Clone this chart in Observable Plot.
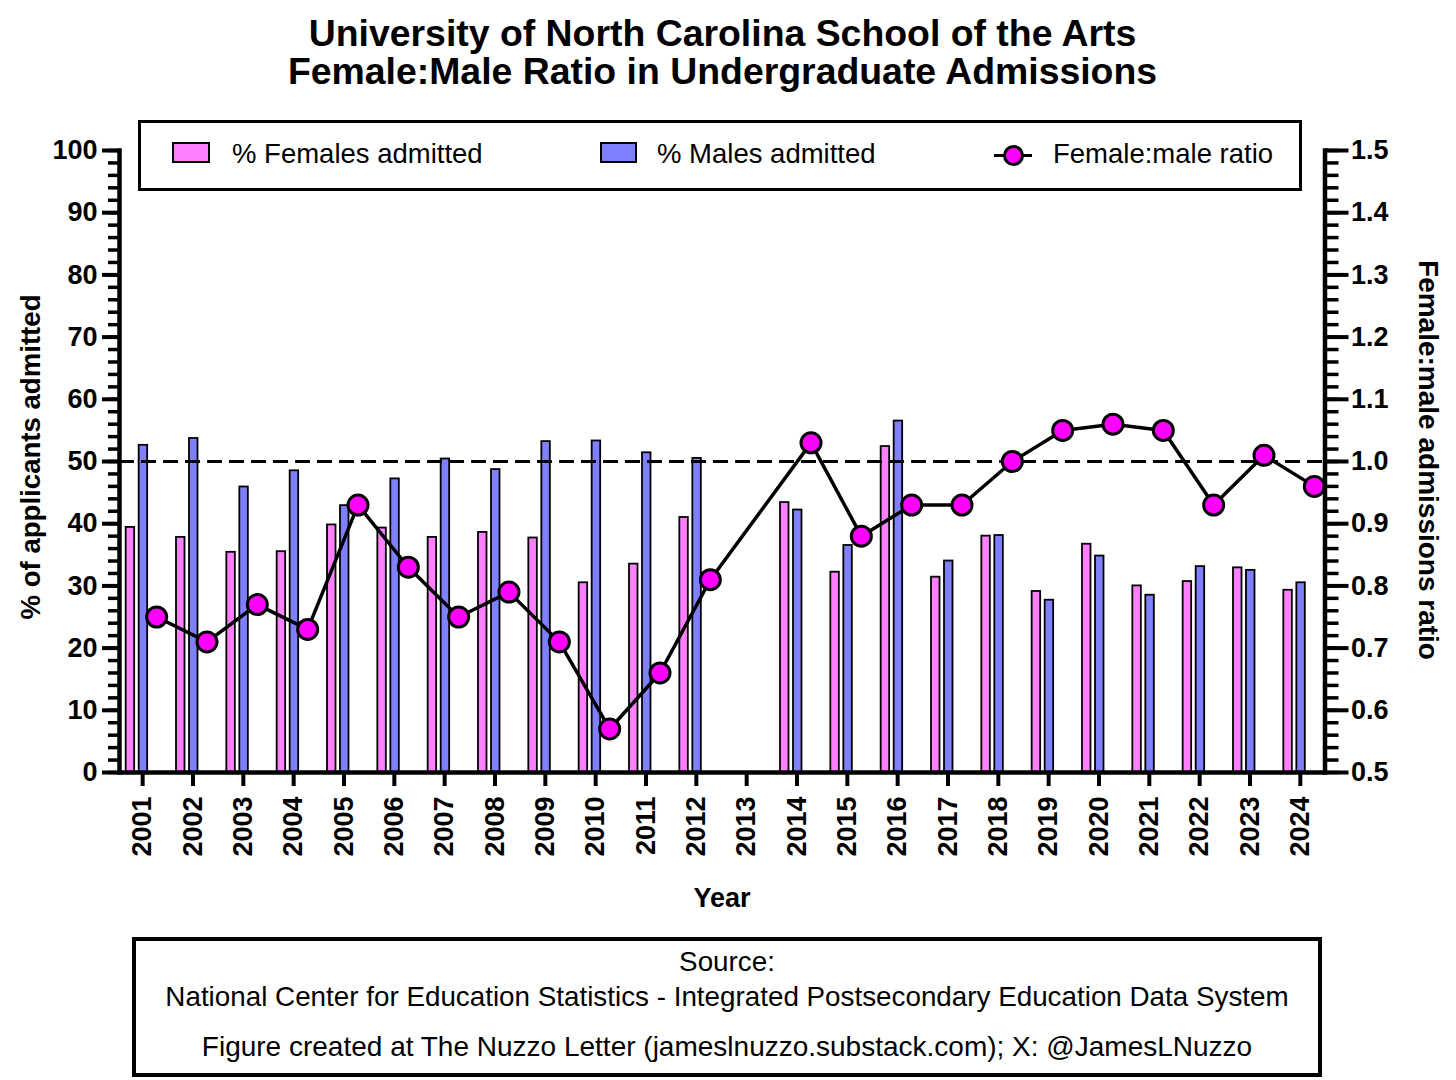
<!DOCTYPE html>
<html><head><meta charset="utf-8">
<script src="https://cdn.jsdelivr.net/npm/d3@7"></script>
<script src="https://cdn.jsdelivr.net/npm/@observablehq/plot@0.6"></script>
<style>
body{margin:0;background:#fff;}
#wrap{position:relative;width:1456px;height:1080px;font-family:"Liberation Sans",Arial,Helvetica,sans-serif;color:#000;overflow:hidden;}
#titlespace{height:110px;}
.t{position:absolute;white-space:nowrap;line-height:1;}
#chart svg{display:block;}
</style></head>
<body><div id="wrap"><div id="titlespace"></div><div id="chart"></div></div>
<script>
// ---- data ----
const years = [2001,2002,2003,2004,2005,2006,2007,2008,2009,2010,2011,2012,2013,2014,2015,2016,2017,2018,2019,2020,2021,2022,2023,2024];
const femalePct = [39.4,37.8,35.4,35.5,39.8,39.3,37.8,38.6,37.7,30.5,33.5,41.0,null,43.4,32.2,52.4,31.4,38.0,29.1,36.7,30.0,30.7,32.9,29.3];
const malePct   = [52.6,53.7,45.9,48.5,42.9,47.2,50.4,48.7,53.2,53.3,51.4,50.5,null,42.2,36.5,56.5,34.0,38.1,27.7,34.8,28.5,33.1,32.5,30.5];
const ratio     = [0.75,0.71,0.77,0.73,0.93,0.83,0.75,0.79,0.71,0.57,0.66,0.81,null,1.03,0.88,0.93,0.93,1.00,1.05,1.06,1.05,0.93,1.01,0.96];
const leftTicks = [0,10,20,30,40,50,60,70,80,90,100];
const ratioTicks = [0.5,0.6,0.7,0.8,0.9,1.0,1.1,1.2,1.3,1.4,1.5];
const ratioMin = 0.5, ratioMax = 1.5;

const titleLines = ["University of North Carolina School of the Arts","Female:Male Ratio in Undergraduate Admissions"];
const legendLabels = ["% Females admitted","% Males admitted","Female:male ratio"];
const footerLines = ["Source:","National Center for Education Statistics - Integrated Postsecondary Education Data System","Figure created at The Nuzzo Letter (jameslnuzzo.substack.com); X: @JamesLNuzzo"];

const PINK = "#FF80FF", BLUE = "#8080FF", MAG = "#FF00FF";

const rows = years.map((year,i)=>({year, female: femalePct[i], male: malePct[i], ratio: ratio[i]}));
const ratioRows = rows.filter(d => d.ratio != null);
// map ratio onto the left-axis (0..100) domain for the secondary axis
const r2y = r => (r - ratioMin) / (ratioMax - ratioMin) * 100;

const W = 1456, H = 820;
const xr = [117, 1325];
const bw = (xr[1]-xr[0]) / years.length;
const half = bw/2;

const minorTicks = d3.range(0, 101, 2);

const chart = Plot.plot({
  width: W, height: H,
  marginLeft: 119, marginRight: 131.5, marginTop: 40, marginBottom: 158,
  style: {fontFamily: '"Liberation Sans", Arial, sans-serif', fontSize: "27px", fontWeight: "bold", background: "white", color: "#000", overflow: "visible"},
  x: {type: "band", domain: years, range: xr, padding: 0, round: false},
  y: {domain: [0, 100]},
  marks: [
    Plot.barY(rows, {x: "year", y: "female", fill: PINK, stroke: "#000", strokeWidth: 1.8,
      insetLeft: half - 16.5, insetRight: half + 8}),
    Plot.barY(rows, {x: "year", y: "male", fill: BLUE, stroke: "#000", strokeWidth: 1.8,
      insetLeft: half - 3.5, insetRight: half - 5}),
    Plot.ruleY([r2y(1.0)], {stroke: "#000", strokeWidth: 3, strokeDasharray: "15,7"}),
    Plot.line(ratioRows, {x: "year", y: d => r2y(d.ratio), dx: 14, stroke: "#000", strokeWidth: 3.5}),
    Plot.dot(ratioRows, {x: "year", y: d => r2y(d.ratio), dx: 14, r: 10, fill: MAG, stroke: "#000", strokeWidth: 3}),
    // axes
    Plot.axisY({anchor: "left", ticks: minorTicks, tickSize: 11, strokeWidth: 3.5, tickFormat: () => "", label: null}),
    Plot.axisY({anchor: "left", ticks: leftTicks, tickSize: 17, tickPadding: 5, strokeWidth: 4, label: null}),
    Plot.axisY({anchor: "right", ticks: minorTicks, tickSize: 13, strokeWidth: 3.5, tickFormat: () => "", label: null}),
    Plot.axisY({anchor: "right", ticks: ratioTicks.map(r2y), tickSize: 23, tickPadding: 3, strokeWidth: 4,
      tickFormat: d => (ratioMin + d/100*(ratioMax-ratioMin)).toFixed(1), label: null}),
    Plot.axisX({ticks: years, tickSize: 14, tickPadding: 10, tickRotate: -90, strokeWidth: 4, tickFormat: d => String(d), label: null}),
    Plot.ruleY([0], {stroke: "#000", strokeWidth: 4.5}),
    Plot.frame({anchor: "left", stroke: "#000", strokeWidth: 4.5}),
    Plot.frame({anchor: "right", stroke: "#000", strokeWidth: 4.5})
  ]
});
document.getElementById("chart").appendChild(chart);

// ---- text & legend overlays ----
const wrap = document.getElementById("wrap");
function txt(s, {x, base, size, weight = "normal", anchor = "start"}) {
  const el = document.createElement("div");
  el.className = "t";
  el.textContent = s;
  el.style.fontSize = size + "px";
  el.style.fontWeight = weight;
  el.style.top = (base - 0.8465 * size) + "px";
  el.style.left = x + "px";
  if (anchor === "middle") el.style.transform = "translateX(-50%)";
  wrap.appendChild(el);
  return el;
}
function box(style) {
  const el = document.createElement("div");
  el.style.position = "absolute";
  el.style.boxSizing = "border-box";
  Object.assign(el.style, style);
  wrap.appendChild(el);
  return el;
}
function rotTitle(s, cx, cy, deg, size) {
  const el = document.createElement("div");
  el.className = "t";
  el.textContent = s;
  el.style.fontSize = size + "px";
  el.style.fontWeight = "bold";
  el.style.left = cx + "px";
  el.style.top = cy + "px";
  el.style.transform = `translate(-50%,-50%) rotate(${deg}deg)`;
  wrap.appendChild(el);
}

txt(titleLines[0], {x: 722.5, base: 46.5, size: 37.4, weight: "bold", anchor: "middle"});
txt(titleLines[1], {x: 722.5, base: 85, size: 37.4, weight: "bold", anchor: "middle"});

// legend box
box({left: "138px", top: "120px", width: "1164px", height: "71px", border: "3.5px solid #000", background: "transparent"});
box({left: "172px", top: "142px", width: "38px", height: "21px", border: "2px solid #000", background: PINK});
txt(legendLabels[0], {x: 232, base: 163, size: 27.5});
box({left: "600px", top: "142px", width: "37px", height: "21px", border: "2px solid #000", background: BLUE});
txt(legendLabels[1], {x: 657, base: 163, size: 27.5});
box({left: "994px", top: "153.5px", width: "38px", height: "3px", background: "#000"});
box({left: "1002.5px", top: "144.5px", width: "21px", height: "21px", border: "3px solid #000", borderRadius: "50%", background: MAG});
txt(legendLabels[2], {x: 1053, base: 163, size: 27.5});

// axis titles
rotTitle("% of applicants admitted", 31, 457, -90, 27.6);
rotTitle("Female:male admissions ratio", 1428, 460, 90, 28);
txt("Year", {x: 722, base: 908, size: 27, weight: "bold", anchor: "middle"});

// footer box
box({left: "132px", top: "937px", width: "1190px", height: "140px", border: "4.5px solid #000"});
txt(footerLines[0], {x: 727, base: 972, size: 27.8, anchor: "middle"});
txt(footerLines[1], {x: 727, base: 1006.5, size: 27.8, anchor: "middle"});
txt(footerLines[2], {x: 727, base: 1056.5, size: 28, anchor: "middle"});
</script></body></html>
